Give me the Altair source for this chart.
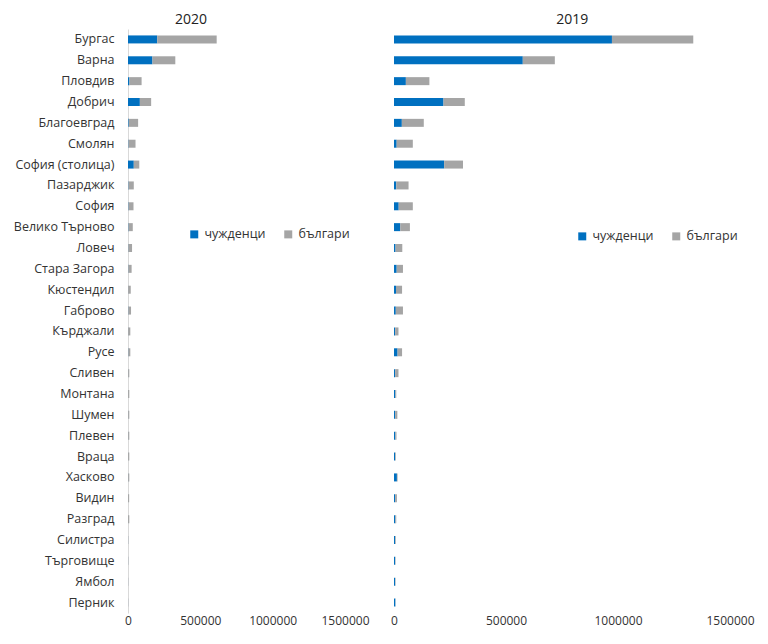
import altair as alt
import pandas as pd

regions = ["Бургас", "Варна", "Пловдив", "Добрич", "Благоевград", "Смолян",
           "София (столица)", "Пазарджик", "София", "Велико Търново", "Ловеч",
           "Стара Загора", "Кюстендил", "Габрово", "Кърджали", "Русе", "Сливен",
           "Монтана", "Шумен", "Плевен", "Враца", "Хасково", "Видин", "Разград",
           "Силистра", "Търговище", "Ямбол", "Перник"]

foreign_2020 = [202000, 169000, 10000, 82000, 5000, 3000, 40000, 3000, 3000, 3000, 2000,
                2000, 1000, 2000, 1000, 2000, 1000, 500, 1000, 1000, 500, 1000, 500, 500,
                300, 300, 200, 200]
bulgar_2020 = [411000, 158000, 84000, 78000, 65000, 49000, 38000, 37000, 35000, 30000, 26000,
               23000, 18000, 19000, 15000, 14000, 8000, 8500, 8000, 8000, 8500, 8000, 7500, 8500,
               1700, 1700, 1300, 1300]

foreign_2019 = [973000, 575000, 53000, 221000, 35000, 12000, 224000, 10000, 21000, 28000, 7000,
                12000, 9000, 8000, 5000, 16000, 5000, 6000, 5000, 6000, 5000, 13000, 5000, 6000,
                5000, 5000, 5000, 6000]
bulgar_2019 = [363000, 143000, 105000, 95000, 98000, 72000, 84000, 55000, 63000, 43000, 30000,
               28000, 27000, 32000, 15000, 20000, 15000, 4000, 10000, 5000, 3000, 3000, 8000, 4000,
               3000, 2000, 2000, 1000]

groups = ["чужденци", "българи"]
colors = ["#0070C0", "#A5A5A5"]
ticks = [0, 500000, 1000000, 1500000]
FONT = "Open Sans"


def long_df(foreign, bulgar):
    rows = []
    for r, f, b in zip(regions, foreign, bulgar):
        rows.append({"region": r, "group": groups[0], "value": f, "ord": 0})
        rows.append({"region": r, "group": groups[1], "value": b, "ord": 1})
    return pd.DataFrame(rows)


def panel(df, title, width, show_y, lx, ly):
    yaxis = alt.Axis(title=None, ticks=False, domain=True, domainColor="#d9d9d9",
                     labelPadding=14, labelFontSize=12.5, labelColor="#333333",
                     labelFont=FONT, minExtent=115, maxExtent=115) if show_y else None
    return alt.Chart(df).mark_bar(size=8).encode(
        y=alt.Y("region:N", sort=regions, axis=yaxis),
        x=alt.X("value:Q", stack="zero",
                scale=alt.Scale(domain=[0, 1500000], nice=False),
                axis=alt.Axis(title=None, values=ticks, format="d", grid=False,
                              domain=False, ticks=False, labelPadding=2,
                              labelFontSize=12, labelColor="#333333", labelFont=FONT,
                              labelOverlap=False, labelFlush=False)),
        color=alt.Color("group:N",
                        scale=alt.Scale(domain=groups, range=colors),
                        legend=alt.Legend(orient="none", legendX=lx, legendY=ly,
                                          direction="horizontal", title=None,
                                          symbolType="square", symbolSize=64,
                                          symbolStrokeWidth=0, labelFontSize=12.5,
                                          labelFont=FONT, labelColor="#333333",
                                          columnPadding=16, labelOffset=4)),
        order=alt.Order("ord:Q"),
    ).properties(
        width=width, height=584,
        title=alt.TitleParams(title, frame="bounds", anchor="middle", fontSize=14,
                              fontWeight="normal", font=FONT, color="#222222", offset=2),
    )


left = panel(long_df(foreign_2020, bulgar_2020), "2020", 217, True, 60, 199)
right = panel(long_df(foreign_2019, bulgar_2019), "2019", 336, False, 182, 201)

chart = alt.hconcat(left, right, spacing=49, bounds="flush").resolve_scale(
    color="independent"
).properties(
    padding={"left": 5, "top": 5, "right": 5, "bottom": 5}
).configure_view(stroke=None)

chart.save("out.html", embed_options={"renderer": "svg", "actions": False})
